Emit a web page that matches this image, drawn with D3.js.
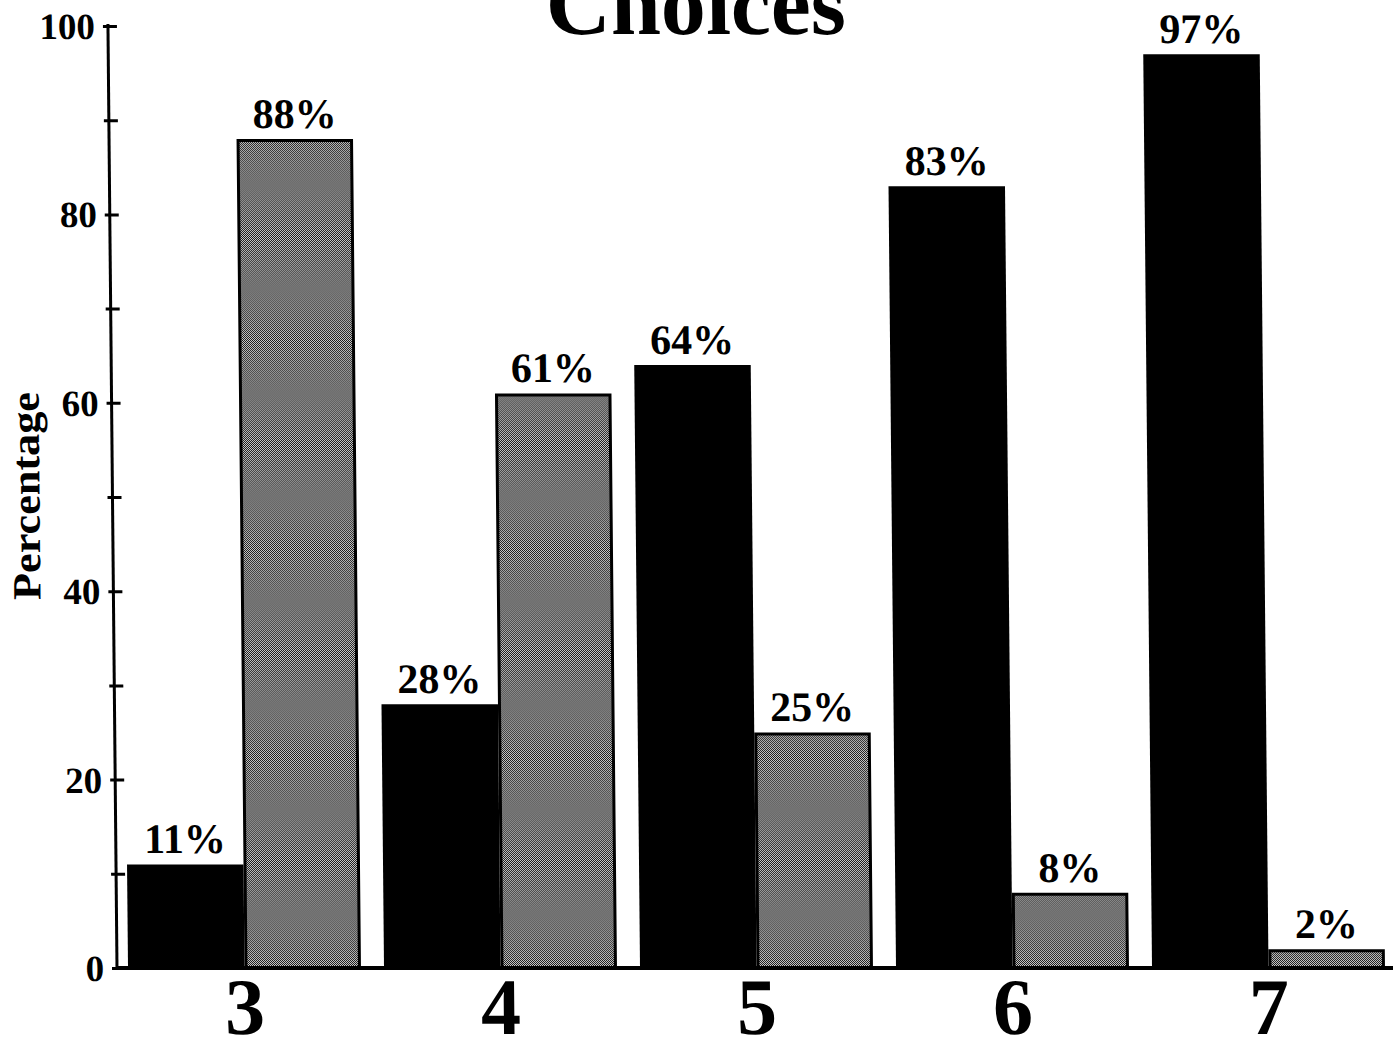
<!DOCTYPE html>
<html>
<head>
<meta charset="utf-8">
<script src="https://cdn.jsdelivr.net/npm/d3@7/dist/d3.min.js"></script>
<style>
  html, body { margin: 0; padding: 0; background: #fff; }
  svg { display: block; }
  text { font-family: "Liberation Serif", "Times New Roman", serif; font-weight: bold; fill: #000; }
</style>
</head>
<body>
<script>
// Number of choices shown on the x axis
const groups = ["3", "4", "5", "6", "7"];
// Two series per group: solid black and halftone grey
const seriesKeys = ["black", "grey"];
const blackValues = [11, 28, 64, 83, 97];
const greyValues = [88, 61, 25, 8, 2];
// Y axis tick values
const majorTicks = [0, 20, 40, 60, 80, 100];
const minorTicks = [10, 30, 50, 70, 90];

const W = 1393, H = 1051;
const baseY = 968;

const svg = d3.select("body").append("svg")
  .attr("width", W).attr("height", H);

// Halftone fill for the grey bars
const defs = svg.append("defs");
const pat = defs.append("pattern")
  .attr("id", "halftone")
  .attr("patternUnits", "userSpaceOnUse")
  .attr("width", 2).attr("height", 2);
pat.append("rect").attr("width", 2).attr("height", 2).attr("fill", "#e4e4e4");
pat.append("rect").attr("x", 0).attr("y", 0).attr("width", 1).attr("height", 1).attr("fill", "#000");
pat.append("rect").attr("x", 1).attr("y", 1).attr("width", 1).attr("height", 1).attr("fill", "#000");

// Whole drawing leans slightly, as on the printed page
const g = svg.append("g")
  .attr("transform", `translate(0,${baseY}) skewX(0.55) translate(0,${-baseY})`);

const y = d3.scaleLinear().domain([0, 100]).range([baseY, 26]);
const x0 = d3.scaleBand().domain(groups)
  .range([116.5, 1396.5]).paddingInner(0.09).paddingOuter(0.045);
const x1 = d3.scaleBand().domain(seriesKeys)
  .range([0, x0.bandwidth()]).padding(0);

const rows = groups.map((c, i) => ({
  cat: c,
  vals: [
    { key: "black", value: blackValues[i] },
    { key: "grey", value: greyValues[i] }
  ]
}));

// Bars
const grp = g.selectAll("g.grp").data(rows).join("g")
  .attr("class", "grp")
  .attr("transform", d => `translate(${x0(d.cat)},0)`);

grp.selectAll("rect").data(d => d.vals).join("rect")
  .attr("x", d => x1(d.key) + (d.key === "grey" ? 1.5 : 0))
  .attr("y", d => y(d.value) + (d.key === "grey" ? 1.5 : 0))
  .attr("width", d => x1.bandwidth() - (d.key === "grey" ? 3 : 0))
  .attr("height", d => baseY - y(d.value) - (d.key === "grey" ? 1.5 : 0))
  .attr("fill", d => d.key === "black" ? "#000" : "url(#halftone)")
  .attr("stroke", d => d.key === "grey" ? "#000" : "none")
  .attr("stroke-width", 3);

// Value labels
grp.selectAll("text.val").data(d => d.vals).join("text")
  .attr("class", "val")
  .attr("x", d => x1(d.key) + x1.bandwidth() / 2)
  .attr("y", d => y(d.value) - 11)
  .attr("text-anchor", "middle")
  .attr("font-size", 42)
  .text(d => d.value + "%");

// X axis baseline
g.append("line")
  .attr("x1", 117).attr("x2", W + 10)
  .attr("y1", baseY).attr("y2", baseY)
  .attr("stroke", "#000").attr("stroke-width", 4);

// Category labels
const xAxis = g.append("g")
  .attr("transform", `translate(0,${baseY})`)
  .call(d3.axisBottom(x0).tickSize(0));
xAxis.select(".domain").remove();
xAxis.selectAll("text")
  .attr("y", 66).attr("dy", 0)
  .attr("font-size", 80)
  .attr("font-family", "Liberation Serif, serif")
  .attr("font-weight", "bold")
  .attr("fill", "#000");

// Y axis
const yAxisG = g.append("g").attr("transform", "translate(117,0)");
yAxisG.call(d3.axisLeft(y).tickValues(majorTicks).tickSize(5).tickPadding(9));
yAxisG.select(".domain")
  .attr("d", `M0,${y(100) - 2}V${baseY}`)
  .attr("stroke-width", 3);
yAxisG.selectAll(".tick line")
  .attr("x1", -5).attr("x2", 9).attr("stroke-width", 3);
yAxisG.selectAll(".tick text")
  .attr("font-size", 37)
  .attr("font-family", "Liberation Serif, serif")
  .attr("font-weight", "bold")
  .attr("fill", "#000")
  .attr("x", -13)
  .attr("dy", "0.34em");

const minorG = g.append("g").attr("transform", "translate(117,0)");
minorG.call(d3.axisLeft(y).tickValues(minorTicks).tickSize(5).tickFormat(""));
minorG.select(".domain").remove();
minorG.selectAll(".tick line")
  .attr("x1", -5).attr("x2", 9).attr("stroke-width", 3);

// Y axis title
g.append("text")
  .attr("transform", "translate(44,496) rotate(-90)")
  .attr("text-anchor", "middle")
  .attr("font-family", "DejaVu Serif, serif")
  .attr("font-size", 40)
  .attr("textLength", 208)
  .attr("lengthAdjust", "spacingAndGlyphs")
  .text("Percentage");

// Chart title
g.append("text")
  .attr("x", 705).attr("y", 34)
  .attr("text-anchor", "middle")
  .attr("font-size", 90)
  .text("Choices");
</script>
</body>
</html>
